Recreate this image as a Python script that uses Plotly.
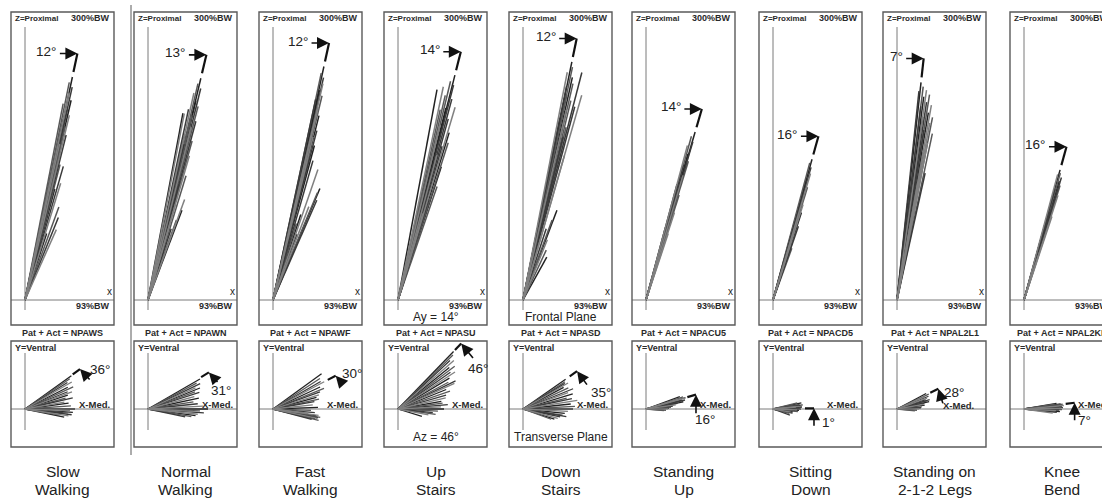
import math
import plotly.graph_objects as go

W, H = 1102, 498

# ---------------- data ----------------
activities = ["Slow<br>Walking", "Normal<br>Walking", "Fast<br>Walking", "Up<br>Stairs",
              "Down<br>Stairs", "Standing<br>Up", "Sitting<br>Down",
              "Standing on<br>2-1-2 Legs", "Knee<br>Bend"]
codes = ["NPAWS", "NPAWN", "NPAWF", "NPASU", "NPASD", "NPACU5", "NPACD5", "NPAL2L1", "NPAL2KE"]

frontal_labels = [12, 13, 12, 14, 12, 14, 16, 7, 16]
transverse_labels = [36, 31, 30, 46, 35, 16, 1, 28, 7]
frontal_peak_dir = [12, 13.4, 12.3, 14.2, 11.6, 16.3, 15.5, 6.3, 15.5]
transverse_peak_dir = [36, 31, 28, 46, 35, 16, 1, 26, 7]

# frontal plane: angle from Z axis (deg, toward +X), magnitude
frontal_angles = [
    [12, 11.5, 12.5, 12, 13, 11, 12.5, 13.5, 12, 13, 14, 12.5, 13.5, 14.5, 16, 17, 15, 20, 22, 24, 18, 13, 14],
    [13.4, 13, 14, 12.5, 13.5, 14.5, 12, 11, 10.6, 13.4, 15, 14, 12.5, 15.5, 13, 16, 14, 17, 15, 20, 20.7, 19.5, 18, 16],
    [12.3, 12, 12.8, 13, 12.5, 13.5, 12, 13.2, 14, 13, 14.5, 13.8, 15, 14.2, 16, 19, 22.8, 22.5, 23.7, 21, 18, 17, 20],
    [14.2, 13.5, 14.5, 12, 10.5, 13, 15, 16.5, 14, 12.5, 15.5, 13.5, 17, 17.7, 16, 15, 18, 19, 17, 16, 15],
    [11.6, 12, 14.5, 11, 12.5, 13, 11.5, 16, 12, 13.5, 15, 12.8, 11.5, 14, 13.8, 16, 20.7, 20, 18, 22, 29, 25],
    [16.3, 15.5, 16.5, 15, 16, 17, 15.5, 16.5, 15, 17.5, 16, 18, 16.5, 15, 17, 18.5, 16],
    [15.5, 15, 16, 16.5, 15.5, 17, 16, 17.5, 18, 16.5, 19, 17, 18.5, 20, 17.5],
    [6.3, 7, 6, 8, 7.5, 9, 8.5, 10, 9.5, 11, 7, 10.5, 8, 12, 9, 11, 10, 8.5, 12.5, 10, 9, 11],
    [15.5, 16, 17, 15, 16.5, 17.5, 15.5, 18, 16, 17, 16.5, 18.5, 15.5, 17, 16, 18, 17],
]
frontal_mags = [
    [228, 222, 218, 212, 205, 200, 195, 190, 185, 178, 170, 160, 150, 140, 139, 122, 115, 99, 89, 77, 70, 100, 60],
    [228, 222, 218, 212, 205, 200, 195, 190, 190, 190, 185, 178, 170, 165, 160, 150, 140, 130, 120, 107, 96, 85, 75, 100],
    [239, 232, 228, 222, 215, 210, 205, 198, 190, 182, 175, 168, 160, 150, 145, 138, 121, 116, 109, 100, 90, 80, 70],
    [232, 225, 222, 218, 214, 210, 208, 201, 198, 195, 188, 180, 175, 165, 160, 150, 140, 120, 105, 90, 70],
    [243, 238, 235, 232, 228, 222, 218, 213, 210, 205, 200, 195, 185, 178, 168, 150, 96, 85, 75, 65, 49, 55],
    [175, 170, 165, 160, 152, 145, 140, 130, 120, 110, 100, 92, 85, 75, 65, 70, 55],
    [146, 142, 138, 132, 125, 118, 110, 100, 92, 85, 78, 70, 60, 55, 50],
    [219, 215, 210, 212, 205, 208, 200, 198, 190, 186, 195, 180, 185, 170, 172, 160, 150, 140, 130, 120, 100, 90],
    [135, 132, 128, 130, 124, 120, 115, 110, 105, 100, 92, 88, 80, 70, 60, 50, 40],
]

# transverse plane: angle from X-Med. axis (deg, toward Y-Ventral), magnitude
transverse_angles = [
    [35.6, 34, 32, 30, 27, 24.6, 22, 20, 18, 15, 13, 10, 7.8, 4, 0, -2, -4, -5.3, -7, -9, -11.6, -10, -6],
    [30, 28, 26, 24, 22, 20, 18, 15, 12, 9, 6, 3, 0, -2, -4, -6, -8, -10, -12, -3],
    [36, 33, 30, 28, 25, 22, 20, 17, 15, 12, 10, 6, 2, -2, -5, -8, -9, -10, -11, -12, -13, -14, -15, -7],
    [46, 44.5, 43, 41, 39, 37, 35, 33, 31, 28, 26, 24.5, 22, 19, 16, 13, 10, 7.6, 5, 2.9, 0, -3, -6, -11, -17, -8],
    [35, 33, 31.5, 30, 28, 25, 22, 20, 17, 14, 12, 9, 6, 3, 0, -3, -6, -9, -12, -15, -18, -20, -10],
    [20, 18, 16, 15.6, 14, 12, 10, 8, 6, 4, 2, 0, -3, -5, 13, 17, 11],
    [12, 10, 8, 6, 4, 2, 0, -2, -4, -6, -8, -10, -12, -15, -20, 5, -3, 14],
    [28, 25, 22, 20, 18, 15, 12, 10, 8, 5, 3, 0, -3, -6, 16, 24, 13],
    [8, 7, 6, 5, 4, 3, 2, 1, 0, -1, -2, -3, -4, -5, -6, -8, 10, 9],
]
transverse_mags = [
    [57, 54, 50, 54, 48, 53, 46, 50, 45, 42, 49, 40, 44, 46, 50, 45, 48, 43, 47, 44, 40, 35, 38],
    [60, 55, 58, 52, 56, 50, 54, 48, 52, 46, 50, 55, 60, 52, 56, 50, 48, 44, 38, 45],
    [60, 56, 55, 58, 52, 55, 50, 48, 45, 47, 42, 40, 45, 38, 42, 46, 44, 48, 46, 45, 43, 47, 40, 35],
    [80, 77, 71, 74, 66, 71, 64, 68, 60, 57, 64, 62, 52, 55, 50, 49, 44, 45, 50, 43, 46, 40, 35, 31, 25, 38],
    [52, 50, 49, 52, 46, 50, 54, 48, 52, 45, 50, 55, 48, 52, 50, 45, 42, 40, 38, 36, 33, 30, 44],
    [36, 39, 41, 41, 37, 34, 32, 30, 27, 25, 23, 22, 20, 18, 40, 34, 38],
    [29, 27, 30, 26, 29, 27, 28, 24, 22, 25, 20, 18, 20, 17, 18, 23, 26, 25],
    [33, 35, 34, 32, 30, 31, 28, 27, 28, 25, 24, 22, 20, 18, 34, 30, 33],
    [37, 39, 37, 40, 38, 35, 39, 37, 34, 38, 35, 32, 36, 31, 33, 29, 33, 31],
]

# ---------------- layout (pixels) ----------------
S = 1.0  # pixels per magnitude unit
box_left = [11, 134, 259, 384, 509, 632, 759, 883, 1010]
BOX_W = 103
ORIGIN_DX = 14
TOP_Y0, TOP_Y1, TOP_OY = 12, 325, 300
BOT_Y0, BOT_Y1, BOT_OY = 341, 447, 409
bot_arrow_off = [(11, 12), (10, 11), (8, 9), (13, 16), (11, 15), (0, 20), (0, 19), (5, 16), (0, 19)]
bot_text_off = [(20, 0), (12, 18), (16, -2), (17, 25), (24, 21), (9, 25), (15, 14), (16, 4), (10, 18)]
xmed_pos = [None] * 7 + [(976, 405), None]

shades = ['#222222', '#585858', '#3a3a3a', '#808080']
AXIS_COL = '#7a7a7a'
BOX_COL = '#5a5a5a'
FONT = 'Liberation Sans, Arial, sans-serif'

fig = go.Figure()
annotations = []
shapes = []


def px(x):
    return x / W


def py(y):
    return 1 - y / H


def axname(k):
    return ('x' if k == 1 else f'x{k}'), ('y' if k == 1 else f'y{k}')


def small(text, x, y, xanchor='left', size=9, bold=True, color='#2a2a2a'):
    annotations.append(dict(
        x=px(x), y=py(y), xref='paper', yref='paper', text=(f'<b>{text}</b>' if bold else text),
        showarrow=False, xanchor=xanchor, yanchor='middle',
        font=dict(family=FONT, size=size, color=color)))


def panel(k, left, y0, y1, oy, angles, mags, frontal, vtop, vbot, peak_dir, seg_a, seg_b, lw):
    xr, yr = axname(k)
    right = left + BOX_W
    rclip = min(right, W)
    ox = left + ORIGIN_DX
    xrange_ = [-(ox - left) / S, (rclip - ox) / S]
    yrange_ = [-(y1 - oy) / S, (oy - y0) / S]
    suffix = '' if k == 1 else str(k)
    fig.layout['xaxis' + suffix] = dict(domain=[px(left), px(rclip)], range=xrange_, visible=False,
                                        anchor=yr, fixedrange=True)
    fig.layout['yaxis' + suffix] = dict(domain=[py(y1), py(y0)], range=yrange_, visible=False,
                                        anchor=xr, fixedrange=True)
    # internal axes
    fig.add_trace(go.Scatter(x=[xrange_[0], xrange_[1], None, 0, 0],
                             y=[0, 0, None, vbot / S, vtop / S],
                             mode='lines', line=dict(color=AXIS_COL, width=1),
                             xaxis=xr, yaxis=yr, hoverinfo='skip', showlegend=False))
    # vectors
    groups = [([], []) for _ in shades]
    for i, (a, m) in enumerate(zip(angles, mags)):
        r = math.radians(a)
        if frontal:
            ex, ey = m * math.sin(r), m * math.cos(r)
        else:
            ex, ey = m * math.cos(r), m * math.sin(r)
        gx, gy = groups[i % len(shades)]
        gx += [0, ex, None]
        gy += [0, ey, None]
    for (gx, gy), c in zip(groups, shades):
        fig.add_trace(go.Scatter(x=gx, y=gy, mode='lines', line=dict(color=c, width=lw),
                                 xaxis=xr, yaxis=yr, hoverinfo='skip', showlegend=False))
    # indicator segment
    lmax = max(mags)
    r = math.radians(peak_dir)
    L = [lmax + seg_a, lmax + seg_b]
    if frontal:
        sx = [l * math.sin(r) for l in L]
        sy = [l * math.cos(r) for l in L]
    else:
        sx = [l * math.cos(r) for l in L]
        sy = [l * math.sin(r) for l in L]
    fig.add_trace(go.Scatter(x=sx, y=sy, mode='lines', line=dict(color='#111', width=2.2),
                             xaxis=xr, yaxis=yr, hoverinfo='skip', showlegend=False))
    # box
    shapes.append(dict(type='rect', xref='paper', yref='paper', x0=px(left), x1=px(right),
                       y0=py(y1), y1=py(y0), line=dict(color=BOX_COL, width=1.4)))
    return xr, yr, sx[1], sy[1], left, right


for c in range(9):
    left = box_left[c]
    # ----- frontal (top) -----
    xr, yr, ex, ey, l, r = panel(2 * c + 1, left, TOP_Y0, TOP_Y1, TOP_OY,
                                 frontal_angles[c], frontal_mags[c], True, 273, -10,
                                 frontal_peak_dir[c], 5, 24, 1.5)
    annotations.append(dict(x=ex, y=ey, xref=xr, yref=yr, text='', showarrow=True,
                            ax=-19, ay=0, arrowhead=2, arrowsize=1.5, arrowwidth=1.6,
                            arrowcolor='#111'))
    annotations.append(dict(x=ex, y=ey, xref=xr, yref=yr, text=f'{frontal_labels[c]}°',
                            showarrow=False, xanchor='right', yanchor='middle', xshift=-19, yshift=2,
                            font=dict(family=FONT, size=13.5, color='#222')))
    small('Z=Proximal', l + 2, 18, size=8)
    small('300%BW', r - 2, 18, xanchor='right')
    small('x', r - 5, 291, xanchor='center', size=10, bold=False, color='#222')
    small('93%BW', r - 2, 306, xanchor='right')
    small(f'Pat + Act = {codes[c]}', (l + r) / 2, 333, xanchor='center')
    # ----- transverse (bottom) -----
    xr, yr, ex, ey, l, r = panel(2 * c + 2, left, BOT_Y0, BOT_Y1, BOT_OY,
                                 transverse_angles[c], transverse_mags[c], False, 56, -21,
                                 transverse_peak_dir[c], 2, 11, 1.3)
    aox, aoy = bot_arrow_off[c]
    annotations.append(dict(x=ex, y=ey, xref=xr, yref=yr, text='', showarrow=True,
                            ax=aox, ay=aoy, arrowhead=2, arrowsize=1.5, arrowwidth=1.6,
                            arrowcolor='#111'))
    tox, toy = bot_text_off[c]
    annotations.append(dict(x=ex, y=ey, xref=xr, yref=yr, text=f'{transverse_labels[c]}°',
                            showarrow=False, xanchor='center', yanchor='middle',
                            xshift=tox, yshift=-toy,
                            font=dict(family=FONT, size=13.5, color='#222')))
    small('Y=Ventral', l + 2, 348)
    mx, my = xmed_pos[c] if xmed_pos[c] else (r - 2, 404)
    small('X-Med.', mx, my, xanchor='right', size=9.5)
    # activity label (two lines)
    for j, line in enumerate(activities[c].split('<br>')):
        annotations.append(dict(x=px((l + r) / 2), y=py(471 + 18 * j), xref='paper', yref='paper',
                                text=line, showarrow=False, xanchor='center', yanchor='middle',
                                font=dict(family=FONT, size=15.5, color='#222')))

# plane / angle notes
cx4 = box_left[3] + BOX_W / 2
cx5 = box_left[4] + BOX_W / 2
for txt, x, y in [('Ay = 14°', cx4, 317), ('Frontal Plane', cx5, 317),
                  ('Az = 46°', cx4, 437), ('Transverse Plane', cx5, 437)]:
    annotations.append(dict(x=px(x), y=py(y), xref='paper', yref='paper', text=txt,
                            showarrow=False, xanchor='center', yanchor='middle',
                            font=dict(family=FONT, size=12, color='#222')))

# separator line left of column 2
shapes.append(dict(type='line', xref='paper', yref='paper', x0=px(131), x1=px(131),
                   y0=py(455), y1=py(5), line=dict(color=BOX_COL, width=1)))

fig.update_layout(width=W, height=H, margin=dict(l=0, r=0, t=0, b=0),
                  paper_bgcolor='white', plot_bgcolor='rgba(0,0,0,0)',
                  showlegend=False, annotations=annotations, shapes=shapes)
fig.write_html('out.html')
